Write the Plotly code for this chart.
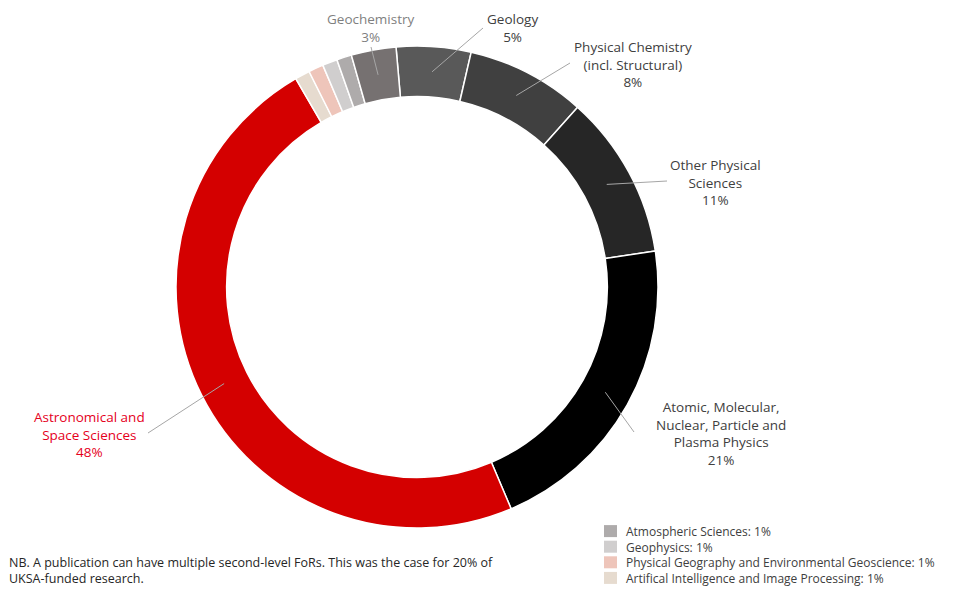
import math
import plotly.graph_objects as go

# Share of UKSA-funded publications by second-level Field of Research
fields = [
    "Geology",
    "Physical Chemistry (incl. Structural)",
    "Other Physical Sciences",
    "Atomic, Molecular, Nuclear, Particle and Plasma Physics",
    "Astronomical and Space Sciences",
    "Artifical Intelligence and Image Processing",
    "Physical Geography and Environmental Geoscience",
    "Geophysics",
    "Atmospheric Sciences",
    "Geochemistry",
]
shares = [5, 8, 11, 21, 48, 1, 1, 1, 1, 3]
colours = [
    "#595959", "#404040", "#262626", "#000000", "#D40000",
    "#E6DBCF", "#EEC5BA", "#D0CECE", "#AEABAB", "#767171",
]

# Wrapped label text for the slices that carry a callout
callout_text = {
    "Geochemistry": "Geochemistry",
    "Geology": "Geology",
    "Physical Chemistry (incl. Structural)": "Physical Chemistry<br>(incl. Structural)",
    "Other Physical Sciences": "Other Physical<br>Sciences",
    "Atomic, Molecular, Nuclear, Particle and Plasma Physics":
        "Atomic, Molecular,<br>Nuclear, Particle and<br>Plasma Physics",
    "Astronomical and Space Sciences": "Astronomical and<br>Space Sciences",
}
# Small slices listed in the key instead (drawn in this order)
keyed = [
    "Atmospheric Sciences",
    "Geophysics",
    "Physical Geography and Environmental Geoscience",
    "Artifical Intelligence and Image Processing",
]

W, H = 956, 589
CX, CY = 417, 287          # ring centre (px)
R_OUT, HOLE = 241, 0.79
ROTATION = -5

FONT = "'Open Sans', Lato, sans-serif"
LABEL_SIZE = 13.5
KEY_SIZE = 12
NOTE_SIZE = 12.5

# Callout placement: text block centre and leader-line end (px)
callout_layout = {
    "Geochemistry": dict(tx=371, ty=28.5, lx=371, ly=47, color="#7F7F7F"),
    "Geology": dict(tx=512.5, ty=28.5, lx=483, ly=28, color="#404040"),
    "Physical Chemistry (incl. Structural)": dict(tx=633, ty=64, lx=570, ly=63, color="#404040"),
    "Other Physical Sciences": dict(tx=715.5, ty=182, lx=667, ly=181, color="#404040"),
    "Atomic, Molecular, Nuclear, Particle and Plasma Physics":
        dict(tx=721, ty=433.5, lx=634, ly=432, color="#404040"),
    "Astronomical and Space Sciences": dict(tx=89, ty=434, lx=148, ly=433, color="#E5001C"),
}


def px(x, y):
    return x / W, 1 - y / H


fig = go.Figure()
fig.add_trace(go.Pie(
    labels=fields,
    values=shares,
    marker=dict(colors=colours, line=dict(color="white", width=1.5)),
    hole=HOLE,
    sort=False,
    direction="clockwise",
    rotation=ROTATION,
    textinfo="none",
    hoverinfo="label+percent",
    showlegend=False,
    domain=dict(x=[(CX - R_OUT) / W, (CX + R_OUT) / W],
                y=[1 - (CY + R_OUT) / H, 1 - (CY - R_OUT) / H]),
))

total = sum(shares)
r_mid = R_OUT * (1 + HOLE) / 2
shapes, annotations = [], []
start = ROTATION
for name, val in zip(fields, shares):
    sweep = 360 * val / total
    mid = math.radians(start + sweep / 2)
    start += sweep
    if name not in callout_text:
        continue
    spec = callout_layout[name]
    sx, sy = CX + r_mid * math.sin(mid), CY - r_mid * math.cos(mid)
    x0, y0 = px(sx, sy)
    x1, y1 = px(spec["lx"], spec["ly"])
    shapes.append(dict(type="line", xref="paper", yref="paper",
                       x0=x0, y0=y0, x1=x1, y1=y1,
                       line=dict(color="#A6A6A6", width=1)))
    tx, ty = px(spec["tx"], spec["ty"])
    annotations.append(dict(
        xref="paper", yref="paper", x=tx, y=ty,
        xanchor="center", yanchor="middle", showarrow=False, align="center",
        text=f"{callout_text[name]}<br>{val}%",
        font=dict(family=FONT, size=LABEL_SIZE, color=spec["color"]),
    ))

# Key for the small slices: one text block, swatches aligned to its lines
line_h = 1.3 * KEY_SIZE
key_mid = 554.5
key_top = key_mid - line_h * len(keyed) / 2
key_lines = []
for i, name in enumerate(keyed):
    k = fields.index(name)
    yc = key_top + line_h * (i + 0.5)
    a0, b0 = px(604, yc - 6)
    a1, b1 = px(617, yc + 6)
    shapes.append(dict(type="rect", xref="paper", yref="paper",
                       x0=a0, y0=b0, x1=a1, y1=b1,
                       fillcolor=colours[k], line=dict(width=0)))
    key_lines.append(f"{name}: {shares[k]}%")
kx, ky = px(624, key_mid)
annotations.append(dict(
    xref="paper", yref="paper", x=kx, y=ky,
    xanchor="left", yanchor="middle", showarrow=False, align="left",
    text="<br>".join(key_lines),
    font=dict(family=FONT, size=KEY_SIZE, color="#404040"),
))

# Footnote
nx, ny = px(7, 589)
annotations.append(dict(
    xref="paper", yref="paper", x=nx, y=ny,
    xanchor="left", yanchor="bottom", showarrow=False, align="left",
    text="NB. A publication can have multiple second-level FoRs. This was the case for 20% of<br>UKSA-funded research.",
    font=dict(family=FONT, size=NOTE_SIZE, color="#262626"),
))

fig.update_layout(
    width=W, height=H,
    margin=dict(l=0, r=0, t=0, b=0),
    paper_bgcolor="white",
    plot_bgcolor="white",
    shapes=shapes,
    annotations=annotations,
    font=dict(family=FONT),
)

fig.write_html("out.html", config=dict(displayModeBar=False))
